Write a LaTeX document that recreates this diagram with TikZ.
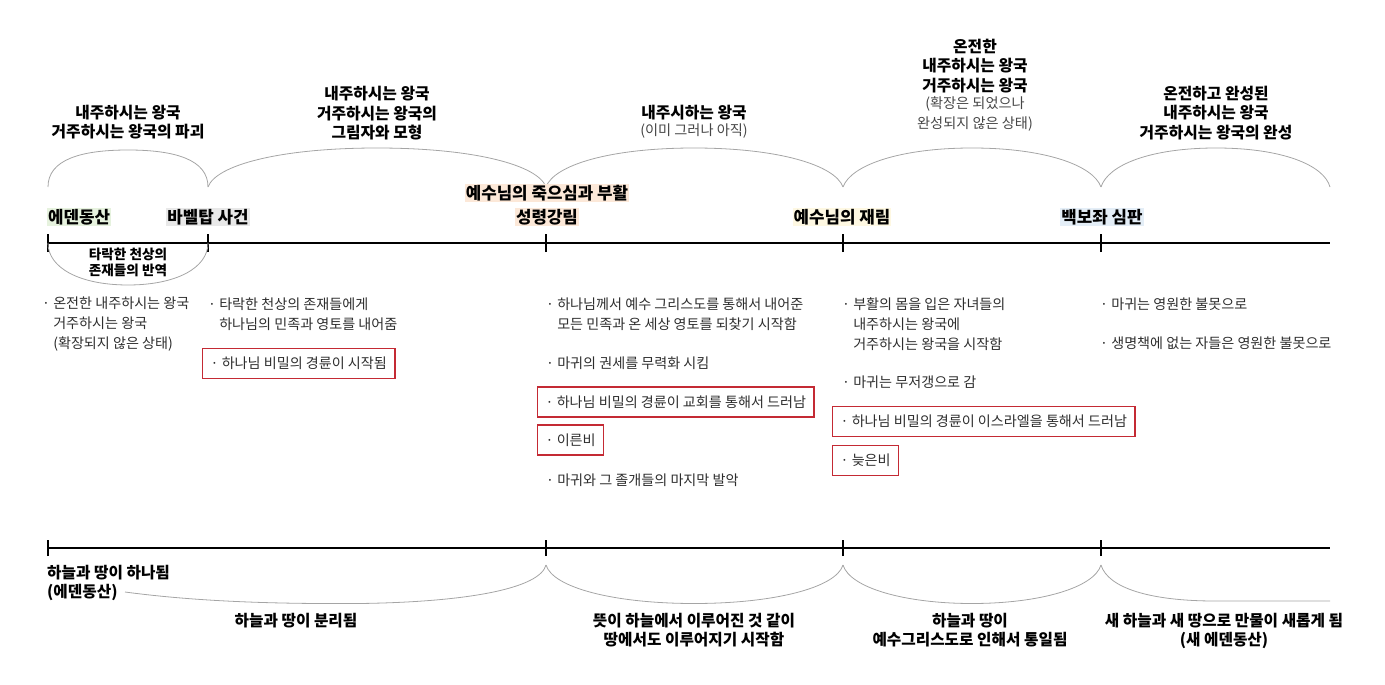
\documentclass[tikz,border=0pt]{standalone}
\usepackage{fontspec}
\setmainfont{Noto Sans CJK KR}
\definecolor{boxred}{RGB}{196,42,52}
\definecolor{bodygray}{RGB}{45,45,45}
\definecolor{subgray}{RGB}{70,70,70}
\definecolor{arcgray}{RGB}{165,165,165}
\definecolor{hlgreen}{RGB}{230,242,222}
\definecolor{hlgray}{RGB}{232,232,232}
\definecolor{hlpeach}{RGB}{252,232,216}
\definecolor{hlyellow}{RGB}{254,248,226}
\definecolor{hlblue}{RGB}{228,238,247}
\begin{document}
\begin{tikzpicture}[x=1pt,y=-1pt,
  headtxt/.style={font=\bfseries\fontsize{15.8}{19.5}\selectfont, align=center, inner sep=0pt},
  subtxt/.style={font=\fontsize{14.2}{19.5}\selectfont, text=subgray, align=center, inner sep=0pt},
  bodytxt/.style={font=\fontsize{14.1}{20}\selectfont, text=bodygray, align=left, inner sep=0pt, anchor=west},
  redbox/.style={bodytxt, draw=boxred, line width=1.4pt, inner xsep=8pt, inner ysep=0pt, minimum height=30pt},
  evtlabel/.style={font=\bfseries\fontsize{16.8}{20}\selectfont, inner xsep=1pt, inner ysep=1pt},
  smalltxt/.style={font=\bfseries\fontsize{13.6}{16}\selectfont, align=center, inner sep=0pt},
  bottxt/.style={font=\bfseries\fontsize{15.7}{19}\selectfont, align=center, inner sep=0pt},
  mybrace/.style={draw=arcgray, line width=0.8pt},
  myaxis/.style={line width=1.6pt, black},
]
\useasboundingbox (0,0) rectangle (1385,685);

% ---------- top timeline ----------
\coordinate (t0) at (48,243);
\coordinate (t1) at (208,243);
\coordinate (t2) at (546,243);
\coordinate (t3) at (843,243);
\coordinate (t4) at (1101,243);
\coordinate (tend) at (1330,243);
\draw[myaxis] (t0) -- (tend);
\foreach \c in {t0,t1,t2,t3,t4}
  \draw[myaxis] ([yshift=-9pt]\c) -- ([yshift=9pt]\c);

% top braces
\draw[mybrace] (48,187) .. controls (48,160) and (80,150) .. (128,150)
               .. controls (176,150) and (208,160) .. (208,187);
\draw[mybrace] (208,187) .. controls (216,165) and (280,148) .. (377,148)
               .. controls (474,148) and (538,165) .. (546,187);
\draw[mybrace] (546,187) .. controls (554,165) and (610,148) .. (694,148)
               .. controls (778,148) and (835,165) .. (843,187);
\draw[mybrace] (843,187) .. controls (851,165) and (900,148) .. (972,148)
               .. controls (1044,148) and (1093,165) .. (1101,187);
\draw[mybrace] (1101,187) .. controls (1108,165) and (1150,148) .. (1216,148)
               .. controls (1282,148) and (1324,165) .. (1330,187);

% small brace under first span
\draw[mybrace] (48,243) .. controls (48,268) and (80,285) .. (128,285)
               .. controls (176,285) and (208,268) .. (208,243);
\node[smalltxt] (rebel) at (128,262) {타락한 천상의\\존재들의 반역};

% ---------- headings ----------
\node[headtxt] (h1) at (128,122) {내주하시는 왕국\\거주하시는 왕국의 파괴};
\node[headtxt] (h2) at (377,113.5) {내주하시는 왕국\\거주하시는 왕국의\\그림자와 모형};
\node[headtxt] (h3) at (694,113) {내주시하는 왕국};
\node[subtxt] (h3s) at (694,131) {(이미 그러나 아직)};
\node[headtxt] (h4) at (975,66) {온전한\\내주하시는 왕국\\거주하시는 왕국};
\node[subtxt] (h4s) at (975,114) {(확장은 되었으나\\완성되지 않은 상태)};
\node[headtxt] (h5) at (1216,113) {온전하고 완성된\\내주하시는 왕국\\거주하시는 왕국의 완성};

% ---------- event labels ----------
\node[evtlabel, fill=hlgreen, anchor=west] (eden) at (47,217) {에덴동산};
\node[evtlabel, fill=hlgray] (babel) at (208,217) {바벨탑 사건};
\node[evtlabel, fill=hlpeach] (cross) at (547,193) {예수님의 죽으심과 부활};
\node[evtlabel, fill=hlpeach] (pente) at (547,217) {성령강림};
\node[evtlabel, fill=hlyellow] (return) at (842,217) {예수님의 재림};
\node[evtlabel, fill=hlblue] (judge) at (1102,217) {백보좌 심판};

% ---------- bullet columns ----------
\node[bodytxt] (c1a) at (42,324) {· 온전한 내주하시는 왕국\\\phantom{· }거주하시는 왕국\\\phantom{· }(확장되지 않은 상태)};

\node[bodytxt] (c2a) at (208,314) {· 타락한 천상의 존재들에게\\\phantom{· }하나님의 민족과 영토를 내어줌};
\node[redbox] (c2b) at (202,363.5) {· 하나님 비밀의 경륜이 시작됨};

\node[bodytxt] (c3a) at (546,314) {· 하나님께서 예수 그리스도를 통해서 내어준\\\phantom{· }모든 민족과 온 세상 영토를 되찾기 시작함};
\node[bodytxt] (c3b) at (546,363) {· 마귀의 권세를 무력화 시킴};
\node[redbox] (c3c) at (537,402) {· 하나님 비밀의 경륜이 교회를 통해서 드러남};
\node[redbox] (c3d) at (537,440) {· 이른비};
\node[bodytxt] (c3e) at (546,480) {· 마귀와 그 졸개들의 마지막 발악};

\node[bodytxt] (c4a) at (842,324) {· 부활의 몸을 입은 자녀들의\\\phantom{· }내주하시는 왕국에\\\phantom{· }거주하시는 왕국을 시작함};
\node[bodytxt] (c4b) at (842,382) {· 마귀는 무저갱으로 감};
\node[redbox] (c4c) at (832,421.5) {· 하나님 비밀의 경륜이 이스라엘을 통해서 드러남};
\node[redbox] (c4d) at (832,460.5) {· 늦은비};

\node[bodytxt] (c5a) at (1100,304) {· 마귀는 영원한 불못으로};
\node[bodytxt] (c5b) at (1100,343) {· 생명책에 없는 자들은 영원한 불못으로};

% ---------- bottom timeline ----------
\coordinate (b0) at (48,548);
\coordinate (b2) at (546,548);
\coordinate (b3) at (843,548);
\coordinate (b4) at (1101,548);
\coordinate (bend) at (1330,548);
\draw[myaxis] (b0) -- (bend);
\foreach \c in {b0,b2,b3,b4}
  \draw[myaxis] ([yshift=-8pt]\c) -- ([yshift=8pt]\c);

% bottom braces
\draw[mybrace] (125,592) .. controls (200,602) and (280,604) .. (360,603.5)
               .. controls (470,602) and (540,588) .. (546,565);
\draw[mybrace] (546,565) .. controls (553,588) and (615,603.5) .. (694,603.5)
               .. controls (773,603.5) and (836,588) .. (843,565);
\draw[mybrace] (843,565) .. controls (850,588) and (905,603.5) .. (972,603.5)
               .. controls (1039,603.5) and (1094,588) .. (1101,565);
\draw[mybrace] (1101,565) .. controls (1108,588) and (1150,601) .. (1215,601)
               -- (1330,601);

% bottom labels
\node[bottxt, align=left, anchor=west] (bl0) at (47,583) {하늘과 땅이 하나됨\\(에덴동산)};
\node[bottxt] (bl1) at (296,621) {하늘과 땅이 분리됨};
\node[bottxt] (bl2) at (694,630.5) {뜻이 하늘에서 이루어진 것 같이\\땅에서도 이루어지기 시작함};
\node[bottxt] (bl3) at (970,630.5) {하늘과 땅이\\예수그리스도로 인해서 통일됨};
\node[bottxt] (bl4) at (1224,630.5) {새 하늘과 새 땅으로 만물이 새롭게 됨\\(새 에덴동산)};
\end{tikzpicture}
\end{document}
